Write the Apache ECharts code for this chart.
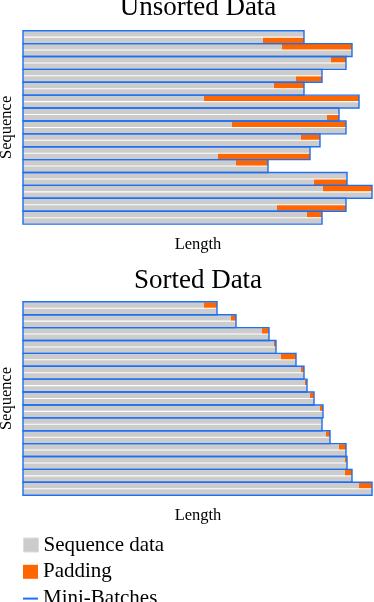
<!DOCTYPE html>
<html>
<head>
<meta charset="utf-8">
<script src="https://cdn.jsdelivr.net/npm/echarts@6/dist/echarts.min.js"></script>
<style>
  html, body { margin: 0; padding: 0; background: #fff; }
  #chart { width: 374px; height: 602px; }
</style>
</head>
<body>
<div id="chart"></div>
<script>
// sequence lengths, two sequences per mini-batch, top to bottom
const unsortedLengths = [281, 240, 259, 329, 308, 323, 299, 273, 251, 281,
                         181, 336, 316, 304, 209, 323, 278, 297, 287, 195,
                         213, 245, 324, 291, 300, 349, 323, 254, 284, 299]
const sortedLengths = [181, 194, 208, 213, 239, 246, 251, 253, 258, 273,
                       278, 281, 282, 284, 287, 291, 297, 300, 299, 299,
                       303, 307, 316, 323, 322, 324, 322, 329, 336, 349]
const batchSize = 2
const legendNames = ['Sequence data', 'Padding', 'Mini-Batches']

const gray = '#cccccc'
const orange = '#ff6600'
const blue = '#1f6ff0'
const serif = '"Liberation Serif", "DejaVu Serif", serif'

// longest sequence of every mini-batch
const batchMax = (lens) => {
    const out = []
    for (let i = 0; i < lens.length; i += batchSize) {
        out.push(Math.max(...lens.slice(i, i + batchSize)))
    }
    return out
}

const padding = (lens) => {
    const maxes = batchMax(lens)
    return lens.map((l, i) => maxes[Math.floor(i / batchSize)] - l)
}

const cats = unsortedLengths.map((_, i) => 's' + i)

const makeAxes = (idx) => ({
    x: {
        type: 'value', gridIndex: idx, min: 0, max: 350,
        axisLine: { show: false }, axisTick: { show: false },
        axisLabel: { show: false }, splitLine: { show: false },
        name: 'Length', nameLocation: 'middle', nameGap: 12,
        nameTextStyle: { fontFamily: serif, fontSize: 16.5, color: '#000', verticalAlign: 'top' }
    },
    y: {
        type: 'category', gridIndex: idx, data: cats, inverse: true,
        axisLine: { show: false }, axisTick: { show: false },
        axisLabel: { show: false }, splitLine: { show: false },
        name: 'Sequence', nameLocation: 'middle', nameGap: 8, nameRotate: 90,
        nameTextStyle: { fontFamily: serif, fontSize: 16.5, color: '#000' }
    }
})

const boxSeries = (idx, lens) => ({
    name: 'Mini-Batches',
    type: 'custom',
    xAxisIndex: idx, yAxisIndex: idx,
    itemStyle: { color: blue },
    encode: { x: 0, y: 1 },
    data: batchMax(lens).map((m, i) => [m, i * batchSize]),
    z: 5,
    renderItem: (params, api) => {
        const start = api.coord([0, api.value(1)])
        const end = api.coord([api.value(0), api.value(1)])
        const band = api.size([0, 1])[1]
        return {
            type: 'rect',
            shape: { x: start[0], y: start[1] - band / 2, width: end[0] - start[0], height: band * batchSize },
            style: { fill: 'none', stroke: blue, lineWidth: 1.4 }
        }
    }
})

const barSeries = (idx, lens) => [
    {
        name: 'Sequence data', type: 'bar', stack: 'b' + idx,
        xAxisIndex: idx, yAxisIndex: idx,
        barWidth: 5.4, itemStyle: { color: gray },
        data: lens, silent: true
    },
    {
        name: 'Padding', type: 'bar', stack: 'b' + idx,
        xAxisIndex: idx, yAxisIndex: idx,
        barWidth: 5.4, itemStyle: { color: orange },
        data: padding(lens), silent: true
    }
]

const legendIcons = [
    { icon: 'rect', itemStyle: { color: gray, borderColor: '#dddddd', borderWidth: 1 } },
    { icon: 'rect', itemStyle: { color: orange } },
    { icon: 'path://M0,0H15V2H0Z', itemStyle: { color: blue } }
]

// one legend per row so nothing wraps into a second column
const legends = legendNames.map((name, i) => ({
    orient: 'vertical', left: 23, top: 534.5 + i * 26.8, padding: 0,
    itemWidth: 15, itemHeight: 14,
    textStyle: { fontFamily: serif, fontSize: 21, color: '#000' },
    data: [Object.assign({ name }, legendIcons[i])]
}))

const a0 = makeAxes(0)
const a1 = makeAxes(1)

const chart = echarts.init(document.getElementById('chart'))
chart.setOption({
    animation: false,
    grid: [
        { left: 23, top: 30.7, width: 350, height: 193.4, outerBoundsMode: 'none' },
        { left: 23, top: 301.8, width: 350, height: 193.4, outerBoundsMode: 'none' }
    ],
    xAxis: [a0.x, a1.x],
    yAxis: [a0.y, a1.y],
    legend: legends,
    graphic: [
        { type: 'text', x: 198, y: 7.5, style: { text: 'Unsorted Data', font: '27px ' + serif, fill: '#000', align: 'center', verticalAlign: 'middle' } },
        { type: 'text', x: 198, y: 281, style: { text: 'Sorted Data', font: '27px ' + serif, fill: '#000', align: 'center', verticalAlign: 'middle' } }
    ],
    series: [
        ...barSeries(0, unsortedLengths),
        boxSeries(0, unsortedLengths),
        ...barSeries(1, sortedLengths),
        boxSeries(1, sortedLengths)
    ]
})
</script>
</body>
</html>
